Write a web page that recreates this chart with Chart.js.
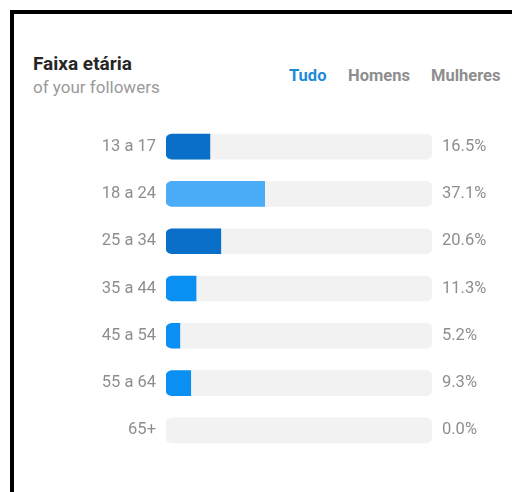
<!DOCTYPE html>
<html>
<head>
<meta charset="utf-8">
<script src="https://cdn.jsdelivr.net/npm/chart.js@4/dist/chart.umd.min.js"></script>
<style>
  html, body { margin:0; padding:0; background:#fff; width:512px; height:492px; overflow:hidden; }
  body { position:relative; font-family: Roboto, "Noto Sans", sans-serif; }
  .frame { position:absolute; left:10px; top:10px; width:502px; height:482px; border-top:4px solid #000; border-left:4px solid #000; box-sizing:border-box; }
  .t { position:absolute; line-height:1; white-space:nowrap; }
  #title { left:33px; top:54px; font-size:19px; font-weight:700; color:#262626; }
  #sub { left:33px; top:79px; font-size:17px; color:#9a9a9a; }
  .tab { top:68px; font-size:16.5px; font-weight:700; color:#8e8e8e; }
  #tudo { left:289px; color:#1b8ad9; }
  #homens { left:348px; }
  #mulheres { left:431px; }
  #wrap { position:absolute; left:0; top:0; width:512px; height:492px; }
</style>
</head>
<body>
<div class="frame"></div>
<div class="t" id="title">Faixa etária</div>
<div class="t" id="sub">of your followers</div>
<div class="t tab" id="tudo">Tudo</div>
<div class="t tab" id="homens">Homens</div>
<div class="t tab" id="mulheres">Mulheres</div>
<div id="wrap"><canvas id="c" width="512" height="492"></canvas></div>
<script>
const categories = ['13 a 17', '18 a 24', '25 a 34', '35 a 44', '45 a 54', '55 a 64', '65+'];
const shares = [16.5, 37.1, 20.6, 11.3, 5.2, 9.3, 0.0];
const shareLabels = ['16.5%', '37.1%', '20.6%', '11.3%', '5.2%', '9.3%', '0.0%'];
const trackValues = [100, 100, 100, 100, 100, 100, 100];
const barColors = ['#0a6fc8', '#4badf8', '#0a6fc8', '#0a90f2', '#0a90f2', '#0a90f2', '#0a90f2'];

const tickFont = { family: 'Roboto', size: 16.5 };
const tickColor = '#8e8e8e';

new Chart(document.getElementById('c'), {
  type: 'bar',
  data: {
    labels: categories,
    datasets: [
      {
        data: shares,
        backgroundColor: (ctx) => (ctx.raw > 0 ? barColors[ctx.dataIndex] : 'rgba(0,0,0,0)'),
        borderWidth: 0,
        barThickness: 25,
        borderSkipped: false,
        borderRadius: { topLeft: 6, bottomLeft: 6, topRight: 0, bottomRight: 0 },
        grouped: false,
        order: 1
      },
      {
        data: trackValues,
        backgroundColor: '#f2f2f2',
        borderWidth: 0,
        barThickness: 25,
        borderSkipped: false,
        borderRadius: 6,
        grouped: false,
        order: 2
      }
    ]
  },
  options: {
    indexAxis: 'y',
    responsive: false,
    devicePixelRatio: 1,
    animation: false,
    layout: { padding: { left: 96, right: 10, top: 123, bottom: 38 } },
    plugins: { legend: { display: false }, tooltip: { enabled: false } },
    scales: {
      x: { min: 0, max: 100, display: false },
      y: {
        type: 'category',
        offset: true,
        grid: { display: false, drawTicks: false },
        border: { display: false },
        ticks: { padding: 10, color: tickColor, font: tickFont, autoSkip: false },
        afterFit(s) { s.width = 70; }
      },
      yR: {
        type: 'category',
        labels: shareLabels,
        position: 'right',
        offset: true,
        grid: { display: false, drawTicks: false },
        border: { display: false },
        ticks: { padding: 10, color: tickColor, font: tickFont, autoSkip: false },
        afterFit(s) { s.width = 70; }
      }
    }
  }
});
</script>
</body>
</html>
